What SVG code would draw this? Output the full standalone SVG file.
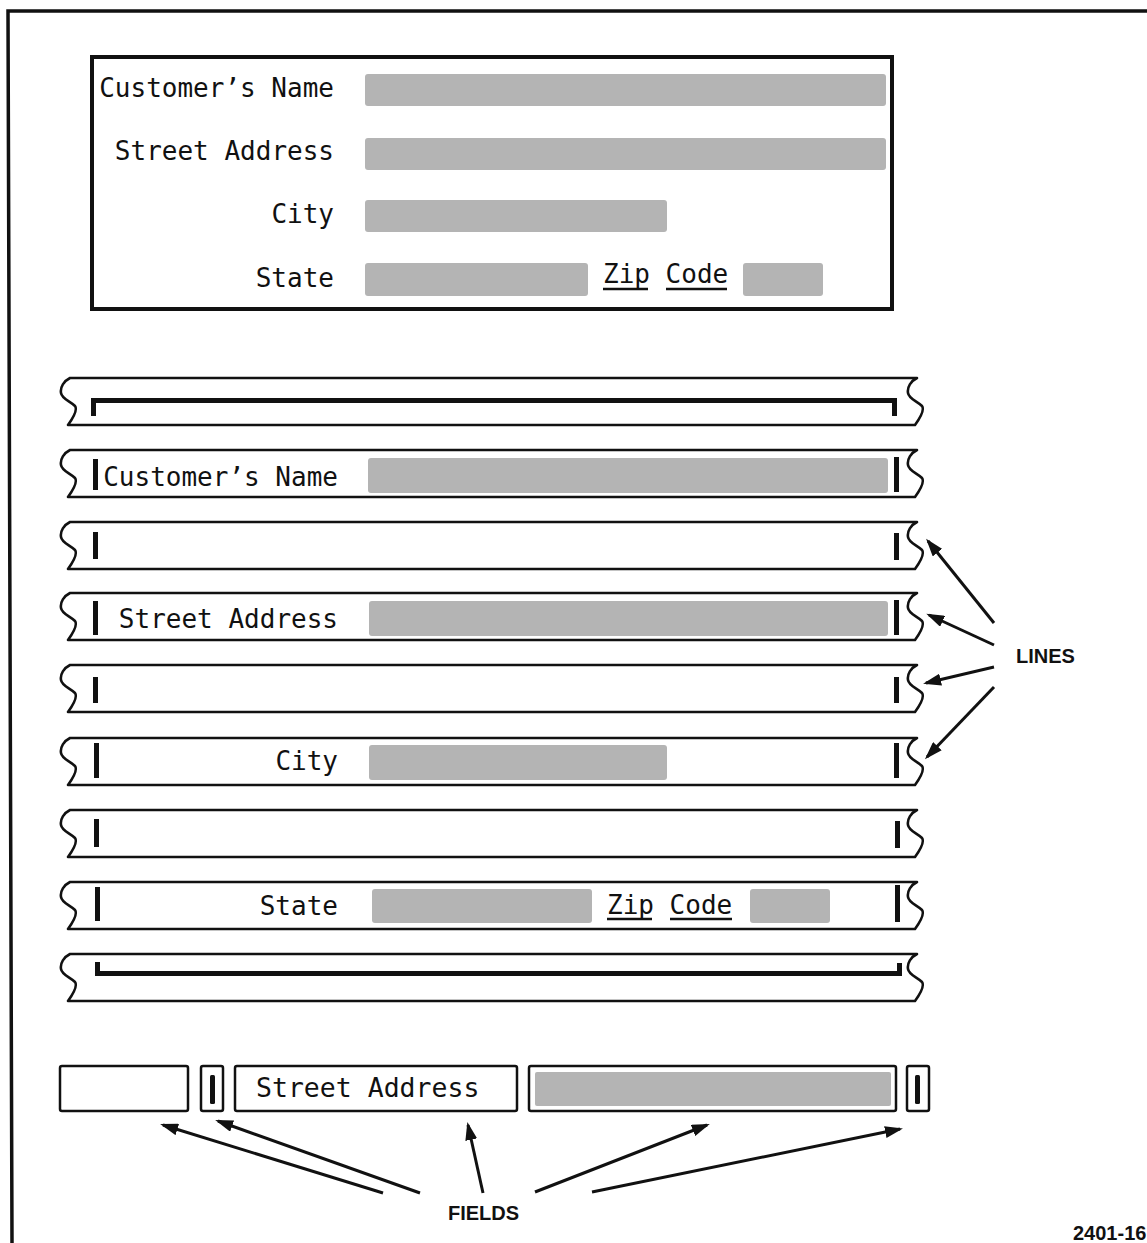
<svg xmlns="http://www.w3.org/2000/svg" width="1147" height="1243" viewBox="0 0 1147 1243">
<style>
.frame{fill:none;stroke:#111;stroke-width:3.5}
.box{fill:#fff;stroke:#111;stroke-width:4}
.strip{fill:#fff;stroke:#111;stroke-width:2.6;stroke-linejoin:round}
.sh{fill:#b4b4b4}
.bar{fill:#111}
.brk{fill:none;stroke:#111;stroke-width:5}
.mono{font-family:"DejaVu Sans Mono","Liberation Mono",monospace;font-size:26px;fill:#111}
.lab{font-family:"Liberation Sans",Arial,sans-serif;font-weight:bold;font-size:20px;fill:#111}
.arr{fill:none;stroke:#111;stroke-width:3;marker-end:url(#ah)}
.ul{stroke:#111;stroke-width:2.5}
.fld{fill:#fff;stroke:#111;stroke-width:2.5}
</style>
<defs>
<marker id="ah" markerUnits="userSpaceOnUse" markerWidth="20" markerHeight="12" refX="15" refY="6" orient="auto"><path d="M0,0 L18,6 L0,12 Z" fill="#111"/></marker>
<path id="strip" class="strip" d="M70,0 H917 C911,3 907,9 908,15 C909,21 917,23 922,28 C925,32 920,40 915,47 H68 C73,40 78,32 75,28 C70,23 62,21 61,15 C60,9 64,3 70,0 Z"/>
</defs>
<rect width="1147" height="1243" fill="#fff"/>
<path class="frame" d="M1147,11 H8 L12,1243"/>

<g id="form">
<rect class="box" x="92" y="57" width="800" height="252"/>
<rect class="sh" x="365" y="74" width="521" height="32" rx="3"/>
<rect class="sh" x="365" y="138" width="521" height="32" rx="3"/>
<rect class="sh" x="365" y="200" width="302" height="32" rx="3"/>
<rect class="sh" x="365" y="263" width="223" height="33" rx="3"/>
<rect class="sh" x="743" y="263" width="80" height="33" rx="3"/>
<text class="mono" x="334" y="97" text-anchor="end">Customer’s Name</text>
<text class="mono" x="334" y="160" text-anchor="end">Street Address</text>
<text class="mono" x="334" y="223" text-anchor="end">City</text>
<text class="mono" x="334" y="287" text-anchor="end">State</text>
<text class="mono" x="603" y="283">Zip Code</text>
<line class="ul" x1="603" y1="289" x2="648" y2="289"/>
<line class="ul" x1="666" y1="289" x2="727" y2="289"/>
</g>

<g id="line-top">
<use href="#strip" y="378"/>
<path class="brk" d="M93.5,416 V400.5 H894.5 V416"/>
</g>
<g id="line-name">
<use href="#strip" y="450"/>
<rect class="bar" x="93" y="459" width="5" height="31"/>
<rect class="sh" x="368" y="458" width="520" height="35" rx="3"/>
<rect class="bar" x="894" y="457" width="5" height="35"/>
<text class="mono" x="338" y="486" text-anchor="end">Customer’s Name</text>
</g>
<g id="line-blank1">
<use href="#strip" y="522"/>
<rect class="bar" x="93" y="532" width="5" height="27"/>
<rect class="bar" x="894" y="533" width="5" height="27"/>
</g>
<g id="line-street">
<use href="#strip" y="593"/>
<rect class="bar" x="93" y="601" width="5" height="34"/>
<rect class="sh" x="369" y="601" width="519" height="35" rx="3"/>
<rect class="bar" x="894" y="600" width="5" height="35"/>
<text class="mono" x="338" y="628" text-anchor="end">Street Address</text>
</g>
<g id="line-blank2">
<use href="#strip" y="665"/>
<rect class="bar" x="93" y="677" width="5" height="26"/>
<rect class="bar" x="894" y="677" width="5" height="26"/>
</g>
<g id="line-city">
<use href="#strip" y="738"/>
<rect class="bar" x="94" y="743" width="5" height="35"/>
<rect class="sh" x="369" y="745" width="298" height="35" rx="3"/>
<rect class="bar" x="894" y="743" width="5" height="35"/>
<text class="mono" x="338" y="770" text-anchor="end">City</text>
</g>
<g id="line-blank3">
<use href="#strip" y="810"/>
<rect class="bar" x="94" y="819" width="5" height="28"/>
<rect class="bar" x="895" y="821" width="5" height="27"/>
</g>
<g id="line-state">
<use href="#strip" y="882"/>
<rect class="bar" x="95" y="887" width="5" height="34"/>
<rect class="sh" x="372" y="889" width="220" height="34" rx="3"/>
<rect class="sh" x="750" y="889" width="80" height="34" rx="3"/>
<rect class="bar" x="895" y="885" width="5" height="37"/>
<text class="mono" x="338" y="915" text-anchor="end">State</text>
<text class="mono" x="607" y="914">Zip Code</text>
<line class="ul" x1="607" y1="919" x2="652" y2="919"/>
<line class="ul" x1="670" y1="919" x2="732" y2="919"/>
</g>
<g id="line-bottom">
<use href="#strip" y="954"/>
<path class="brk" d="M97.5,962 V973.5 H899.5 V963"/>
</g>

<g id="field-1"><rect class="fld" x="60" y="1066" width="128" height="45" rx="2"/></g>
<g id="field-2"><rect class="fld" x="201" y="1066" width="22" height="45" rx="2"/><rect class="bar" x="210" y="1075" width="5" height="29" rx="1.5"/></g>
<g id="field-3"><rect class="fld" x="235" y="1066" width="282" height="45" rx="2"/><text class="mono" x="256" y="1097" style="font-size:26.5px">Street Address</text></g>
<g id="field-4"><rect class="fld" x="529" y="1066" width="367" height="45" rx="2"/><rect class="sh" x="535" y="1072" width="356" height="34" rx="2"/></g>
<g id="field-5"><rect class="fld" x="907" y="1066" width="22" height="45" rx="2"/><rect class="bar" x="915" y="1075" width="5" height="29" rx="1.5"/></g>

<g id="labels">
<text class="lab" x="1016" y="663">LINES</text>
<text class="lab" x="448" y="1220">FIELDS</text>
<text class="lab" x="1073" y="1240">2401-16</text>
</g>

<g id="connectors">
<line class="arr" x1="994" y1="623" x2="928" y2="541"/>
<line class="arr" x1="994" y1="645" x2="929" y2="615"/>
<line class="arr" x1="994" y1="667" x2="926" y2="683"/>
<line class="arr" x1="994" y1="687" x2="927" y2="757"/>
<line class="arr" x1="383" y1="1193" x2="163" y2="1125"/>
<line class="arr" x1="420" y1="1193" x2="218" y2="1121"/>
<line class="arr" x1="483" y1="1193" x2="468" y2="1125"/>
<line class="arr" x1="535" y1="1192" x2="707" y2="1125"/>
<line class="arr" x1="592" y1="1192" x2="900" y2="1129"/>
</g>
</svg>
